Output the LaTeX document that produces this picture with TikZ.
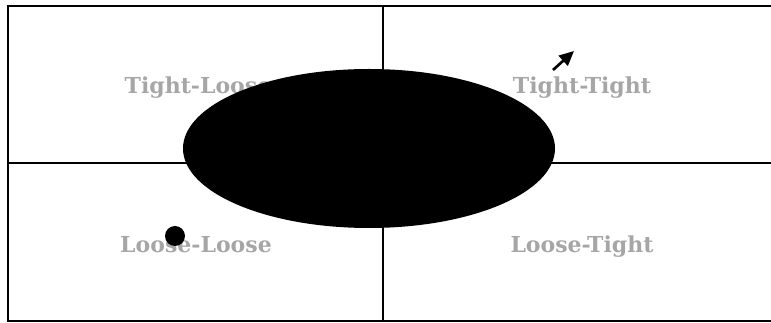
\documentclass[tikz,border=0pt]{standalone}
\usepackage{fontspec}
\newfontfamily\quadfont{DejaVu Serif}
\usetikzlibrary{arrows.meta,positioning}
\definecolor{labelgray}{RGB}{166,166,166}
\tikzset{
  quadlabel/.style={anchor=base,text=labelgray,font=\quadfont\bfseries\fontsize{16.5}{19}\selectfont,inner sep=0pt},
  frameline/.style={draw=black,line width=1.7pt},
  axisline/.style={draw=black,line width=1.2pt},
  blob/.style={fill=black},
  marker/.style={circle,fill=black,minimum size=15pt,inner sep=0pt},
  pusharr/.style={-{Triangle[length=11pt,width=10pt]},line width=2pt}
}
\begin{document}
\begin{tikzpicture}[x=0.75pt,y=-0.75pt]
  \clip (0,0) rectangle (771,323);
  % quadrant frame
  \draw[frameline] (8,6) rectangle (776,321);
  \coordinate (vtop) at (383,6);
  \coordinate (vbot) at (383,321);
  \coordinate (hleft) at (8,163);
  \coordinate (hright) at (776,163);
  \draw[axisline] (vtop) -- (vbot);
  \draw[axisline] (hleft) -- (hright);

  \node[quadlabel] (tl) at (198,94) {Tight-Loose};
  \node[quadlabel] (tt) at (582,94) {Tight-Tight};
  \node[quadlabel] (ll) at (196,253) {Loose-Loose};
  \node[quadlabel] (lt) at (582,253) {Loose-Tight};

  \fill[blob] (369,148.5) ellipse [x radius=186,y radius=79.5];
  \node[marker] (dot) at (175,236) {};

  \coordinate (arrtail) at (553,70);
  \coordinate (arrhead) at (574,51);
  \draw[pusharr] (arrtail) -- (arrhead);
\end{tikzpicture}
\end{document}
